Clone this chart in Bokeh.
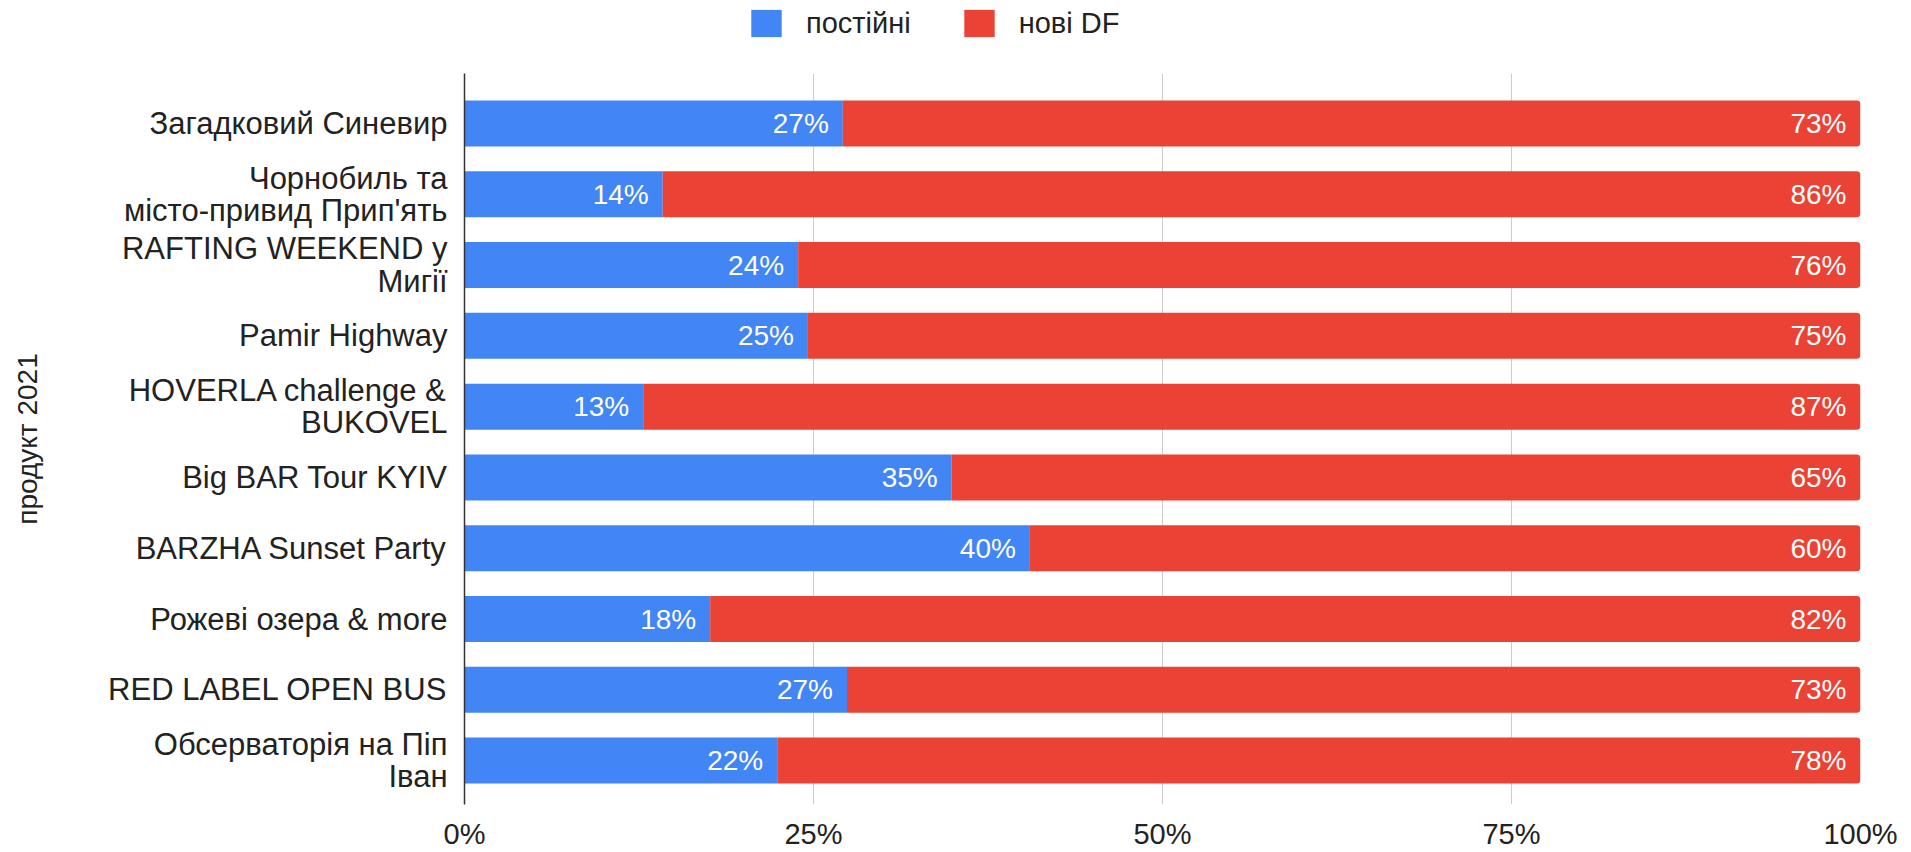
from bokeh.plotting import figure
from bokeh.layouts import column
from bokeh.models import (ColumnDataSource, Range1d, FixedTicker, LabelSet,
                          Legend, LegendItem)
from bokeh.core.properties import value
from bokeh.embed import file_html
from bokeh.resources import INLINE

# ---- data (top to bottom) ----
products = [
    "Загадковий Синевир",
    "Чорнобиль та\nмісто-привид Прип'ять",
    "RAFTING WEEKEND у\nМигії",
    "Pamir Highway",
    "HOVERLA challenge &\nBUKOVEL",
    "Big BAR Tour KYIV",
    "BARZHA Sunset Party",
    "Рожеві озера & more",
    "RED LABEL OPEN BUS",
    "Обсерваторія на Піп\nІван",
]
regular = [27.1, 14.2, 23.9, 24.6, 12.8, 34.9, 40.5, 17.6, 27.4, 22.4]   # постійні
new_df = [72.9, 85.8, 76.1, 75.4, 87.2, 65.1, 59.5, 82.4, 72.6, 77.6]    # нові DF
x_ticks = [0, 25, 50, 75, 100]
series_names = ["постійні", "нові DF"]
colors = ["#4285F4", "#EA4335"]

FONT = "Liberation Sans"
W, H, TOP = 1911, 852, 73

pos = list(range(len(products)))
src = ColumnDataSource(dict(
    y=pos,
    reg=regular,
    tot=[a + b for a, b in zip(regular, new_df)],
    reg_lbl=[f"{round(v)}%" for v in regular],
    new_lbl=[f"{round(v)}%" for v in new_df],
))

# ---- legend strip above the chart ----
lf = figure(width=W, height=TOP, output_backend="svg", toolbar_location=None,
            x_range=Range1d(0, 1), y_range=Range1d(0, 1),
            min_border=0, x_axis_location=None, y_axis_location=None)
lf.outline_line_color = None
lf.xgrid.visible = False
lf.ygrid.visible = False
# zero-size swatch renderers, only used to draw the legend keys
lr = [lf.hbar(y=[0.5], left=[0], right=[0], height=0, fill_color=c,
              line_color=None) for c in colors]
legend = Legend(items=[LegendItem(label=n, renderers=[r])
                       for n, r in zip(series_names, lr)],
                location=(283, 33), orientation="horizontal",
                glyph_width=38, glyph_height=34, label_standoff=21,
                spacing=49, padding=0, margin=0,
                label_text_font=FONT, label_text_font_size="29px",
                label_text_color="#222222",
                border_line_color=None, background_fill_alpha=0)
lf.add_layout(legend, "center")

# ---- main chart ----
p = figure(width=W, height=H - TOP, output_backend="svg", toolbar_location=None,
           x_range=Range1d(0, 100), y_range=Range1d(9.62, -0.706),
           min_border_left=464, min_border_right=51, min_border_top=0,
           min_border_bottom=48)
p.outline_line_color = None
p.background_fill_color = "white"

r1 = p.hbar(y="y", left=0, right="reg", height=0.65, source=src,
            fill_color=colors[0], line_color=None)
r2 = p.hbar(y="y", left="reg", right="tot", height=0.65, source=src,
            fill_color=colors[1], line_color=None, border_radius=(0, 4, 4, 0))

for col, xcol in (("reg_lbl", "reg"), ("new_lbl", "tot")):
    p.add_layout(LabelSet(x=xcol, y="y", text=col, source=src, x_offset=-14,
                          text_align="right", text_baseline="middle",
                          text_color="white", text_font=value(FONT),
                          text_font_size="28px"))

# grid
p.ygrid.grid_line_color = None
p.xgrid.ticker = FixedTicker(ticks=x_ticks)
p.xgrid.grid_line_color = "#cccccc"
p.xgrid.grid_line_width = 1

# x axis
xa = p.xaxis[0]
xa.ticker = FixedTicker(ticks=x_ticks)
xa.major_label_overrides = {t: f"{t}%" for t in x_ticks}
xa.axis_line_color = None
xa.major_tick_line_color = None
xa.minor_tick_line_color = None
xa.major_tick_out = 0
xa.major_tick_in = 0
xa.minor_tick_out = 0
xa.major_label_standoff = 13
xa.major_label_text_font = FONT
xa.major_label_text_font_size = "29px"
xa.major_label_text_color = "#222222"

# y axis
ya = p.yaxis[0]
ya.ticker = FixedTicker(ticks=pos)
ya.major_label_overrides = {i: name for i, name in zip(pos, products)}
ya.axis_line_color = "#333333"
ya.axis_line_width = 1.5
ya.major_tick_line_color = None
ya.minor_tick_line_color = None
ya.major_tick_out = 0
ya.major_tick_in = 0
ya.minor_tick_out = 0
ya.major_label_standoff = 17
ya.major_label_text_font = FONT
ya.major_label_text_font_size = "31px"
ya.major_label_text_color = "#222222"
ya.major_label_text_line_height = 0.92
ya.axis_label = "продукт 2021"
ya.axis_label_text_font = FONT
ya.axis_label_text_font_size = "28px"
ya.axis_label_text_font_style = "normal"
ya.axis_label_text_color = "#222222"
ya.axis_label_standoff = 62

open("out.html", "w").write(file_html(column(lf, p, spacing=0), INLINE))
